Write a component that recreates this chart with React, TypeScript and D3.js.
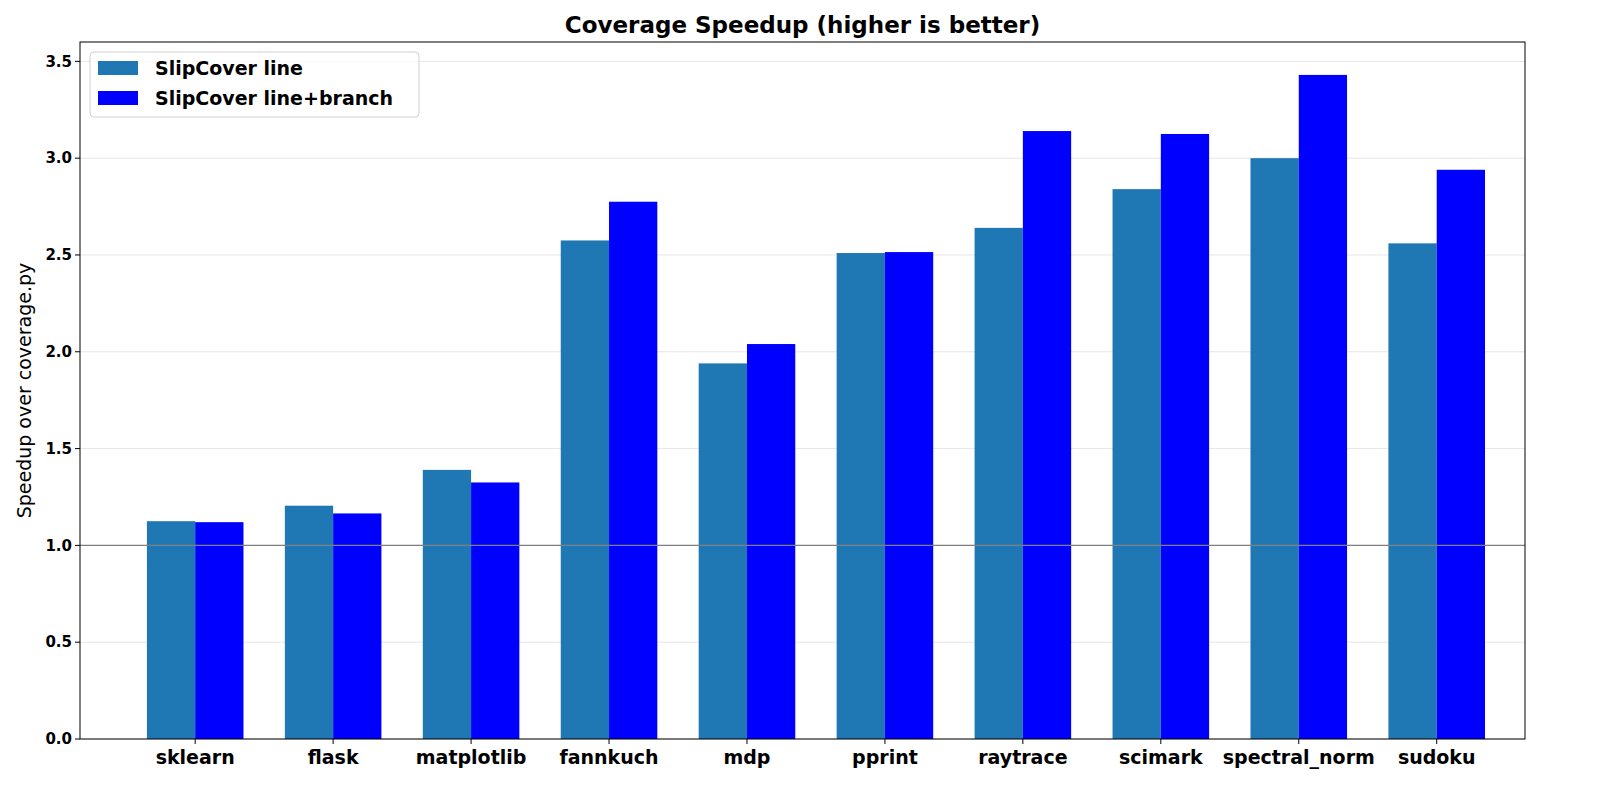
import React from 'react';
import * as d3 from 'd3';

const categories = ['sklearn', 'flask', 'matplotlib', 'fannkuch', 'mdp', 'pprint', 'raytrace', 'scimark', 'spectral_norm', 'sudoku'];
const lineValues = [1.125, 1.205, 1.39, 2.575, 1.94, 2.51, 2.64, 2.84, 3.0, 2.56];
const branchValues = [1.12, 1.165, 1.325, 2.775, 2.04, 2.515, 3.14, 3.125, 3.43, 2.94];
const yTicks = [0, 0.5, 1.0, 1.5, 2.0, 2.5, 3.0, 3.5];
const seriesNames = ['SlipCover line', 'SlipCover line+branch'];
const colors = ['#1f77b4', '#0000ff'];

const W = 1600, H = 800;
const left = 80, right = 1525, top = 42, bottom = 739;
const barW = 0.35;

export default function App() {
  const x = d3.scaleLinear().domain([-0.835, 9.64]).range([left, right]);
  const y = d3.scaleLinear().domain([0, 3.6]).range([bottom, top]);
  const font = 'DejaVu Sans, sans-serif';
  const series = [lineValues, branchValues];
  return (
    <svg width={W} height={H} style={{ position: 'absolute', left: 0, top: 0 }} fontFamily={font}>
      <rect width={W} height={H} fill="#fff" />
      {yTicks.map(t => (
        <line key={t} x1={left} x2={right} y1={y(t)} y2={y(t)} stroke="#e6e6e6" strokeWidth={1} />
      ))}
      {series.map((vals, s) =>
        vals.map((v, i) => {
          const x0 = x(i + (s === 0 ? -barW : 0));
          return <rect key={`${s}-${i}`} x={x0} y={y(v)} width={x(i + barW) - x(i)} height={y(0) - y(v)} fill={colors[s]} />;
        })
      )}
      <line x1={left} x2={right} y1={y(1)} y2={y(1)} stroke="#808080" strokeWidth={1.2} />
      <rect x={left} y={top} width={right - left} height={bottom - top} fill="none" stroke="#000" strokeWidth={1} />
      {yTicks.map(t => (
        <g key={t}>
          <line x1={left - 5} x2={left} y1={y(t)} y2={y(t)} stroke="#000" />
          <text x={left - 8} y={y(t)} dy="0.35em" textAnchor="end" fontSize={15} fontWeight="bold">{t.toFixed(1)}</text>
        </g>
      ))}
      {categories.map((c, i) => (
        <g key={c}>
          <line x1={x(i)} x2={x(i)} y1={bottom} y2={bottom + 5} stroke="#000" />
          <text x={x(i)} y={bottom + 25} textAnchor="middle" fontSize={19} fontWeight="bold">{c}</text>
        </g>
      ))}
      <text x={(left + right) / 2} y={33} textAnchor="middle" fontSize={23} fontWeight="bold">Coverage Speedup (higher is better)</text>
      <text transform={`translate(31,${(top + bottom) / 2}) rotate(-90)`} textAnchor="middle" fontSize={19}>Speedup over coverage.py</text>
      <rect x={90} y={52} width={329} height={65} rx={4} fill="#fff" fillOpacity={0.8} stroke="#d0d0d0" />
      {seriesNames.map((n, i) => (
        <g key={n}>
          <rect x={98} y={61 + i * 30} width={40} height={14} fill={colors[i]} />
          <text x={155} y={68 + i * 30} dy="0.35em" fontSize={19} fontWeight="bold">{n}</text>
        </g>
      ))}
    </svg>
  );
}
